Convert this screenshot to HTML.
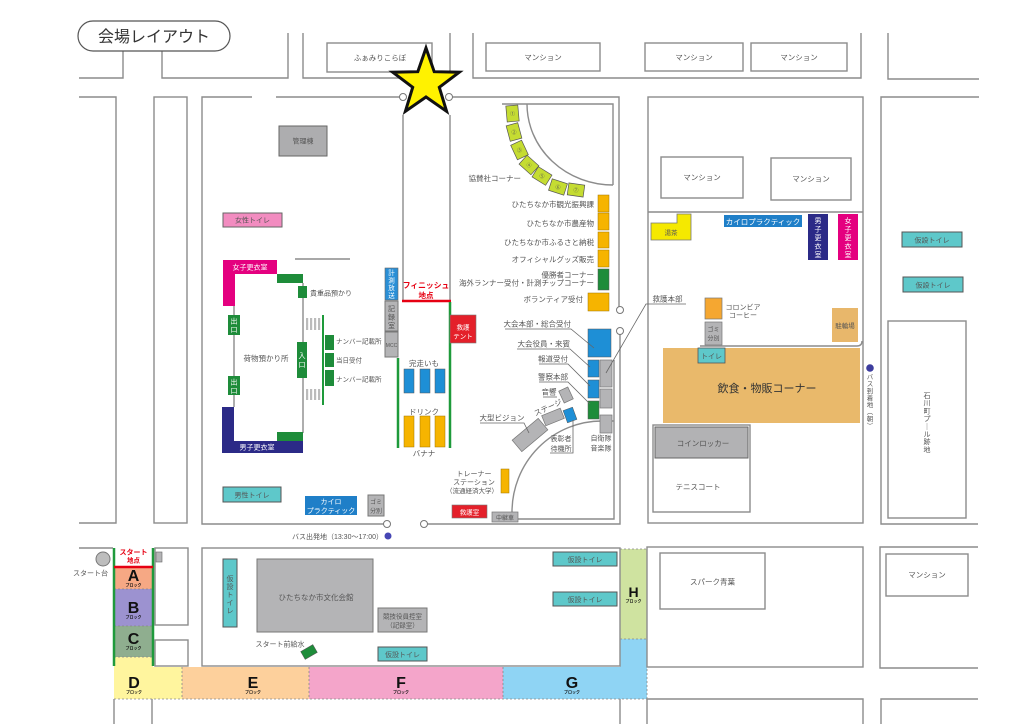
<!DOCTYPE html>
<html><head><meta charset="utf-8"><style>
html,body{margin:0;padding:0;background:#fff;overflow:hidden;}
svg{display:block;}
text{font-family:"Liberation Sans","Noto Sans CJK JP",sans-serif;fill:#555;font-size:7.5px;}
.m{text-anchor:middle;}
.e{text-anchor:end;}
.w{fill:#fff;}
.b{font-weight:bold;}
.r{fill:#e60012;font-weight:bold;}
.L{font-weight:bold;fill:#111;font-size:16px;text-anchor:middle;}
.bl{font-weight:bold;fill:#111;font-size:4px;text-anchor:middle;}
</style></head><body>
<svg width="1024" height="724" viewBox="0 0 1024 724" xmlns="http://www.w3.org/2000/svg">
<rect width="1024" height="724" fill="#fff"/>

<!-- bottom colored blocks -->
<rect x="114" y="567" width="39" height="22" fill="#f6a884"/>
<rect x="114" y="589" width="39" height="37" fill="#9c92d0"/>
<rect x="114" y="626" width="39" height="31" fill="#8fae8f"/>
<path d="M114,657H153V667H182V699H114Z" fill="#fff59e"/>
<rect x="182" y="667" width="127" height="32" fill="#fdd09c"/>
<rect x="309" y="667" width="194" height="32" fill="#f4a5ca"/>
<path d="M503,667H620V639H647V699H503Z" fill="#8fd4f4"/>
<rect x="620" y="549" width="27" height="90" fill="#cfe3a0"/>
<g fill="none" stroke="#888" stroke-width="0.8" stroke-dasharray="2,2">
<path d="M114,589H153M114,626H153M114,657H153M182,667V699M309,667V699M503,667V699M114,699H647M620,549H647M647,549V699M620,639H647"/>
</g>

<!-- roads / blocks -->
<g fill="none" stroke="#8c8c8c" stroke-width="1.4">
<path d="M79,78H123V51"/>
<path d="M162,51V78H288V33"/>
<path d="M303,33V78H450V33"/>
<rect x="327" y="43" width="105" height="29"/>
<path d="M473,33V78H861V33"/>
<rect x="486" y="43" width="114" height="28"/>
<rect x="645" y="43" width="98" height="28"/>
<rect x="751" y="43" width="96" height="28"/>
<path d="M888,33V79H979"/>
<path d="M79,97H116V523H79"/>
<rect x="154" y="97" width="33" height="426"/>
<path d="M252,97H202V524H383.5"/>
<path d="M276,97H399.5"/>
<path d="M452.5,97H619V306.5"/>
<path d="M620,334.5V524H427.5"/>
<path d="M502,104H613V185"/>
<path d="M527,104A86,81 0 0 0 613,185"/>
<path d="M614,360V519H518"/>
<path d="M512,512A90,91 0 0 1 602,421H614"/>
<rect x="648" y="97" width="215" height="426"/>
<path d="M648,212H863"/>
<path d="M700,346H857Q862,346 862,341"/>
<rect x="661" y="157" width="82" height="41"/>
<rect x="771" y="158" width="80" height="42"/>
<path d="M979,97H881V524H978"/>
<rect x="888" y="321" width="78" height="197"/>
<path d="M403,115V300"/>
<path d="M450,115V300"/>
<path d="M295,259H350"/>
<path d="M303,283V433M234,306V407"/>
<path d="M79,548H113"/>
<rect x="155" y="548" width="33" height="77"/>
<rect x="155" y="640" width="33" height="26"/>
<rect x="202" y="548" width="418" height="118"/>
<rect x="647" y="547" width="216" height="120"/>
<rect x="660" y="553" width="105" height="56"/>
<path d="M978,547H880V668H978"/>
<rect x="886" y="554" width="82" height="42"/>
<path d="M114,699V724M152,699V724M620,699V724"/>
<path d="M647,724V699H863V724"/>
<path d="M881,724V699H978"/>
<rect x="653" y="425" width="97" height="87"/>
</g>
<g fill="#fff" stroke="#777" stroke-width="1">
<circle cx="403" cy="97" r="3.5"/><circle cx="449" cy="97" r="3.5"/>
<circle cx="620" cy="310" r="3.5"/><circle cx="620" cy="331" r="3.5"/>
<circle cx="387" cy="524" r="3.5"/><circle cx="424" cy="524" r="3.5"/>
</g>

<!-- title -->
<rect x="78" y="21" width="152" height="30" rx="15" fill="#fff" stroke="#555" stroke-width="1.2"/>
<text x="154" y="42" class="m" style="font-size:16px;fill:#333">会場レイアウト</text>

<!-- star -->
<polygon points="426,48 434.2,71.7 459.3,72.2 439.3,87.3 446.6,111.3 426,97 405.4,111.3 412.7,87.3 392.7,72.2 417.8,71.7" fill="#fff200" stroke="#111" stroke-width="3" stroke-linejoin="miter"/>

<!-- top labels -->
<text x="380" y="60.5" class="m">ふぁみりこらぼ</text>
<text x="543" y="60" class="m">マンション</text>
<text x="694" y="60" class="m">マンション</text>
<text x="799" y="60" class="m">マンション</text>
<text x="702" y="180" class="m">マンション</text>
<text x="811" y="181.5" class="m">マンション</text>

<!-- left venue -->
<rect x="279" y="126" width="48" height="30" fill="#adadaf" stroke="#666"/>
<text x="303" y="143.5" class="m" style="font-size:7px">管理棟</text>
<rect x="223" y="213" width="59" height="14" fill="#f28cc0" stroke="#666"/>
<text x="252.5" y="222.5" class="m" style="font-size:7px">女性トイレ</text>

<path d="M223,260H277V274H235V306H223Z" fill="#e4007f"/>
<text x="250" y="269.5" class="m w" style="font-size:7px">女子更衣室</text>
<path d="M222,407H234V441H303V453H222Z" fill="#2b2a87"/>
<text x="257" y="449.5" class="m w" style="font-size:7px">男子更衣室</text>
<g fill="#1e8c3a">
<rect x="277" y="274" width="26" height="9"/>
<rect x="277" y="432" width="26" height="9"/>
<rect x="298" y="286" width="9" height="12"/>
<rect x="228" y="315" width="12" height="20"/>
<rect x="228" y="376" width="12" height="19"/>
<rect x="297" y="342" width="10" height="36"/>
<rect x="325" y="335" width="9" height="15"/>
<rect x="325" y="353" width="9" height="14"/>
<rect x="325" y="370" width="9" height="16"/>
</g>
<path d="M323,315V405" stroke="#1e9a3a" stroke-width="2"/>
<g fill="#bbb">
<rect x="306" y="318" width="2.2" height="12"/><rect x="310" y="318" width="2.2" height="12"/><rect x="314" y="318" width="2.2" height="12"/><rect x="318" y="318" width="2.2" height="12"/>
<rect x="306" y="389" width="2.2" height="11"/><rect x="310" y="389" width="2.2" height="11"/><rect x="314" y="389" width="2.2" height="11"/><rect x="318" y="389" width="2.2" height="11"/>
</g>
<text x="234" y="323.5" class="m w" style="font-size:7px">出</text><text x="234" y="332" class="m w" style="font-size:7px">口</text>
<text x="234" y="384.5" class="m w" style="font-size:7px">出</text><text x="234" y="393" class="m w" style="font-size:7px">口</text>
<text x="302" y="358" class="m w" style="font-size:7px">入</text><text x="302" y="367" class="m w" style="font-size:7px">口</text>
<text x="310" y="295.5" style="font-size:7px">貴重品預かり</text>
<text x="336" y="343.5" style="font-size:6.5px">ナンバー記載所</text>
<text x="336" y="362.5" style="font-size:6.5px">当日受付</text>
<text x="336" y="381.5" style="font-size:6.5px">ナンバー記載所</text>
<text x="266" y="361" class="m">荷物預かり所</text>

<rect x="223" y="487" width="58" height="15" fill="#5ec8ca" stroke="#555"/>
<text x="252" y="497.5" class="m" style="font-size:7px">男性トイレ</text>
<rect x="305" y="496" width="52" height="19" fill="#1f7fc8"/>
<text x="331" y="504" class="m w" style="font-size:7px">カイロ</text>
<text x="331" y="513" class="m w" style="font-size:7px">プラクティック</text>
<rect x="368" y="495" width="16" height="21" fill="#b4b4b6" stroke="#777"/>
<text x="376" y="504" class="m" style="font-size:6px">ゴミ</text>
<text x="376" y="513" class="m" style="font-size:6px">分別</text>

<text x="383" y="539" class="e" style="font-size:7px">バス出発地（13:30〜17:00）</text>
<circle cx="388" cy="536" r="3.5" fill="#4646b4"/>

<!-- finish area -->
<rect x="385" y="268" width="13" height="32" fill="#2a8fd6" stroke="#666" stroke-width="0.6"/>
<text x="391.5" y="275" class="m w" style="font-size:6.5px">計</text>
<text x="391.5" y="282.5" class="m w" style="font-size:6.5px">測</text>
<text x="391.5" y="290" class="m w" style="font-size:6.5px">放</text>
<text x="391.5" y="297.5" class="m w" style="font-size:6.5px">送</text>
<rect x="385" y="301" width="13" height="30" fill="#b4b4b6" stroke="#777"/>
<text x="391.5" y="311" class="m" style="font-size:7px">記</text>
<text x="391.5" y="319.5" class="m" style="font-size:7px">録</text>
<text x="391.5" y="328" class="m" style="font-size:7px">室</text>
<rect x="385" y="332" width="13" height="25" fill="#b4b4b6" stroke="#777"/>
<text x="391.5" y="347" class="m" style="font-size:5px">MCC</text>

<text x="426" y="288" class="m r" style="font-size:7.8px">フィニッシュ</text>
<text x="426" y="298" class="m r" style="font-size:7.5px">地点</text>
<path d="M402,301H451" stroke="#e60012" stroke-width="2.5"/>
<path d="M398,358V448M450,302V448" stroke="#1e9a3a" stroke-width="2.5"/>

<rect x="450" y="315" width="26" height="28" fill="#e4202a" stroke="#777" stroke-width="0.6"/>
<text x="463" y="329.5" class="m w" style="font-size:6.5px">救護</text>
<text x="463" y="338.5" class="m w" style="font-size:6.5px">テント</text>

<text x="424" y="366" class="m">完走いも</text>
<g fill="#1e8fd6" stroke="#555" stroke-width="0.5">
<rect x="404" y="369" width="10" height="24"/><rect x="420" y="369" width="10" height="24"/><rect x="435" y="369" width="10" height="24"/>
</g>
<text x="424" y="414.5" class="m">ドリンク</text>
<g fill="#f6b400" stroke="#a07400" stroke-width="0.5">
<rect x="404" y="416" width="10" height="31"/><rect x="420" y="416" width="10" height="31"/><rect x="435" y="416" width="10" height="31"/>
</g>
<text x="424" y="456" class="m">バナナ</text>

<!-- sponsor booths -->
<g fill="#c5dc32" stroke="#555" stroke-width="0.7">
<g transform="translate(512.5,113.5) rotate(-5)"><rect x="-6" y="-8" width="12" height="16"/></g>
<g transform="translate(514,132) rotate(-15)"><rect x="-6" y="-8" width="12" height="16"/></g>
<g transform="translate(519.5,150) rotate(-25)"><rect x="-6" y="-8" width="12" height="16"/></g>
<g transform="translate(529,165) rotate(-48)"><rect x="-6" y="-8" width="12" height="16"/></g>
<g transform="translate(542,176) rotate(-58)"><rect x="-6" y="-8" width="12" height="16"/></g>
<g transform="translate(558,187) rotate(-72)"><rect x="-6" y="-8" width="12" height="16"/></g>
<g transform="translate(576,190) rotate(-82)"><rect x="-6" y="-8" width="12" height="16"/></g>
</g>
<text x="512.5" y="115.5" class="m" style="font-size:5px">①</text>
<text x="514" y="134" class="m" style="font-size:5px">②</text>
<text x="519.5" y="152" class="m" style="font-size:5px">③</text>
<text x="529" y="167" class="m" style="font-size:5px">④</text>
<text x="542" y="178" class="m" style="font-size:5px">⑤</text>
<text x="558" y="189" class="m" style="font-size:5px">⑥</text>
<text x="576" y="192" class="m" style="font-size:5px">⑦</text>
<text x="521" y="181" class="e">協賛社コーナー</text>

<!-- stands column -->
<g fill="#f6b400" stroke="#a07400" stroke-width="0.5">
<rect x="598" y="195" width="11" height="17"/>
<rect x="598" y="213" width="11" height="17"/>
<rect x="598" y="232" width="11" height="16"/>
<rect x="598" y="250" width="11" height="17"/>
<rect x="588" y="293" width="21" height="18"/>
</g>
<rect x="598" y="269" width="11" height="21" fill="#1e8c3a" stroke="#555" stroke-width="0.5"/>
<text x="594" y="207" class="e">ひたちなか市観光振興課</text>
<text x="594" y="226" class="e">ひたちなか市農産物</text>
<text x="594" y="245" class="e">ひたちなか市ふるさと納税</text>
<text x="594" y="262" class="e">オフィシャルグッズ販売</text>
<text x="594" y="277.5" class="e">優勝者コーナー</text>
<text x="594" y="285.5" class="e">海外ランナー受付・計測チップコーナー</text>
<text x="583" y="302" class="e">ボランティア受付</text>

<!-- HQ area -->
<g fill="#1e8fd6" stroke="#555" stroke-width="0.5">
<rect x="588" y="329" width="23" height="28"/>
<rect x="588" y="360" width="11" height="17"/>
<rect x="588" y="380" width="11" height="18"/>
</g>
<rect x="588" y="401" width="11" height="18" fill="#1e8c3a" stroke="#555" stroke-width="0.5"/>
<g fill="#b4b4b6" stroke="#777" stroke-width="0.7">
<rect x="600" y="360" width="12" height="27"/>
<rect x="600" y="389" width="12" height="19"/>
<rect x="600" y="415" width="12" height="18"/>
<g transform="translate(530,435) rotate(-40)"><rect x="-17" y="-7.5" width="34" height="15"/></g>
<g transform="translate(553,417) rotate(-22)"><rect x="-10" y="-5.5" width="20" height="11"/></g>
<g transform="translate(566,395) rotate(-25)"><rect x="-5" y="-6.5" width="10" height="13"/></g>
<rect x="492" y="512" width="26" height="10"/>
</g>
<g transform="translate(570,415) rotate(-20)"><rect x="-5" y="-6.5" width="10" height="13" fill="#1e8fd6" stroke="#555" stroke-width="0.5"/></g>
<g fill="none" stroke="#666" stroke-width="0.8">
<path d="M505,329H571L594,348"/>
<path d="M517,349H570L590,367"/>
<path d="M539,364H568L590,386"/>
<path d="M539,382H568L590,404"/>
<path d="M543,397H557"/>
<path d="M480,423H524L529,433"/>
<path d="M550,453H573V420"/>
<path d="M686,304H646L606,373"/>
</g>
<text x="571" y="326.5" class="e">大会本部・総合受付</text>
<text x="570" y="346.5" class="e">大会役員・来賓</text>
<text x="568" y="361.5" class="e">報道受付</text>
<text x="568" y="379.5" class="e">警察本部</text>
<text x="549" y="394.5" class="m">音響</text>
<text x="0" y="0" class="m" transform="translate(549,410) rotate(-25)">ステージ</text>
<text x="502" y="420.5" class="m">大型ビジョン</text>
<text x="561" y="441" class="m" style="font-size:7px">表彰者</text>
<text x="561" y="451" class="m" style="font-size:7px">待機所</text>
<text x="601" y="440.5" class="m" style="font-size:7px">自衛隊</text>
<text x="601" y="450.5" class="m" style="font-size:7px">音楽隊</text>
<rect x="501" y="469" width="8" height="24" fill="#f6b400" stroke="#a07400" stroke-width="0.5"/>
<text x="474" y="476" class="m" style="font-size:7px">トレーナー</text>
<text x="474" y="484.5" class="m" style="font-size:7px">ステーション</text>
<text x="472" y="493" class="m" style="font-size:6.5px">（流通経済大学）</text>
<rect x="452" y="505" width="35" height="13" fill="#e4202a" stroke="#777" stroke-width="0.6"/>
<text x="469.5" y="514.5" class="m w" style="font-size:6.5px">救護室</text>
<text x="505" y="520" class="m" style="font-size:6px">中継車</text>
<text x="667.5" y="301.5" class="m">救護本部</text>

<!-- right event area -->
<path d="M677,214H691V240H651V223H677Z" fill="#f5e900" stroke="#777" stroke-width="0.8"/>
<text x="671" y="235" class="m" style="font-size:6.5px">湯茶</text>
<rect x="724" y="215" width="78" height="12" fill="#1f7fc8"/>
<text x="763" y="224.5" class="m w">カイロプラクティック</text>
<rect x="808" y="214" width="20" height="46" fill="#2b2a87"/>
<rect x="838" y="214" width="20" height="46" fill="#e4007f"/>
<text x="818" y="223" class="m w" style="font-size:7px">男</text><text x="818" y="231.5" class="m w" style="font-size:7px">子</text><text x="818" y="240" class="m w" style="font-size:7px">更</text><text x="818" y="248.5" class="m w" style="font-size:7px">衣</text><text x="818" y="257" class="m w" style="font-size:7px">室</text>
<text x="848" y="223" class="m w" style="font-size:7px">女</text><text x="848" y="231.5" class="m w" style="font-size:7px">子</text><text x="848" y="240" class="m w" style="font-size:7px">更</text><text x="848" y="248.5" class="m w" style="font-size:7px">衣</text><text x="848" y="257" class="m w" style="font-size:7px">室</text>
<rect x="705" y="298" width="17" height="21" fill="#f5a731" stroke="#777" stroke-width="0.7"/>
<text x="743" y="309.5" class="m" style="font-size:7px">コロンビア</text>
<text x="743" y="317.5" class="m" style="font-size:7px">コーヒー</text>
<rect x="705" y="322" width="17" height="23" fill="#b4b4b6" stroke="#777" stroke-width="0.7"/>
<text x="713.5" y="331.5" class="m" style="font-size:6px">ゴミ</text>
<text x="713.5" y="340.5" class="m" style="font-size:6px">分別</text>
<rect x="832" y="308" width="26" height="34" fill="#e8b76b"/>
<text x="845" y="328" class="m" style="font-size:6.5px">駐輪場</text>
<rect x="663" y="348" width="197" height="75" fill="#e9b96b"/>
<text x="767" y="392" class="m" style="font-size:11px;fill:#333">飲食・物販コーナー</text>
<rect x="698" y="348" width="27" height="15" fill="#5ec8ca" stroke="#555" stroke-width="0.8"/>
<text x="711.5" y="358.5" class="m" style="font-size:7px">トイレ</text>
<rect x="655" y="427" width="93" height="31" fill="#b2b2b4" stroke="#666"/>
<text x="703" y="446" class="m">コインロッカー</text>
<text x="698" y="489.5" class="m">テニスコート</text>
<circle cx="870" cy="368" r="3.8" fill="#3d3d9e"/>
<text x="870" y="379" class="m" style="font-size:6.5px">バ</text>
<text x="870" y="386" class="m" style="font-size:6.5px">ス</text>
<text x="870" y="393" class="m" style="font-size:6.5px">到</text>
<text x="870" y="400" class="m" style="font-size:6.5px">着</text>
<text x="870" y="407" class="m" style="font-size:6.5px">地</text>
<text x="870" y="414" class="m" style="font-size:6.5px">︵</text>
<text x="870" y="421" class="m" style="font-size:6.5px">朝</text>
<text x="870" y="428" class="m" style="font-size:6.5px">︶</text>

<!-- far right -->
<rect x="902" y="232" width="60" height="15" fill="#5ec8ca" stroke="#555"/>
<text x="932" y="242.5" class="m" style="font-size:7px">仮設トイレ</text>
<rect x="903" y="277" width="60" height="15" fill="#5ec8ca" stroke="#555"/>
<text x="933" y="287.5" class="m" style="font-size:7px">仮設トイレ</text>
<text x="927" y="398" class="m" style="font-size:7px">石</text>
<text x="927" y="405.7" class="m" style="font-size:7px">川</text>
<text x="927" y="413.4" class="m" style="font-size:7px">町</text>
<text x="927" y="421.1" class="m" style="font-size:7px">プ</text>
<text x="927" y="428.8" class="m" style="font-size:7px">｜</text>
<text x="927" y="436.5" class="m" style="font-size:7px">ル</text>
<text x="927" y="444.2" class="m" style="font-size:7px">跡</text>
<text x="927" y="451.9" class="m" style="font-size:7px">地</text>

<!-- start area -->
<path d="M114,548V666M153,548V666" stroke="#1f9a3c" stroke-width="2.5"/>
<path d="M114,567H153" stroke="#e60012" stroke-width="2.5"/>
<text x="133.5" y="554.5" class="m r" style="font-size:7px">スタート</text>
<text x="133.5" y="562.5" class="m r" style="font-size:6.5px">地点</text>
<circle cx="103" cy="559" r="7" fill="#bdbdbd" stroke="#777"/>
<text x="90.5" y="575.5" class="m" style="font-size:7px">スタート台</text>
<rect x="156" y="552" width="6" height="10" fill="#b4b4b6" stroke="#666" stroke-width="0.6"/>

<text x="133.5" y="581" class="L">A</text><text x="133.5" y="586.5" class="bl">ブロック</text>
<text x="133.5" y="613" class="L">B</text><text x="133.5" y="618.5" class="bl">ブロック</text>
<text x="133.5" y="644" class="L">C</text><text x="133.5" y="649.5" class="bl">ブロック</text>
<text x="134" y="688" class="L">D</text><text x="134" y="693.5" class="bl">ブロック</text>
<text x="253" y="688" class="L">E</text><text x="253" y="693.5" class="bl">ブロック</text>
<text x="401" y="688" class="L">F</text><text x="401" y="693.5" class="bl">ブロック</text>
<text x="572" y="688" class="L">G</text><text x="572" y="693.5" class="bl">ブロック</text>
<text x="633.5" y="597" class="L" style="font-size:14px">H</text><text x="633.5" y="602.5" class="bl">ブロック</text>

<!-- bottom main block -->
<rect x="223" y="559" width="14" height="68" fill="#5ec8ca" stroke="#555"/>
<text x="230" y="581" class="m" style="font-size:7px">仮</text>
<text x="230" y="589" class="m" style="font-size:7px">設</text>
<text x="230" y="597" class="m" style="font-size:7px">ト</text>
<text x="230" y="605" class="m" style="font-size:7px">イ</text>
<text x="230" y="613" class="m" style="font-size:7px">レ</text>
<rect x="257" y="559" width="116" height="73" fill="#b4b4b6" stroke="#777"/>
<text x="316" y="600" class="m">ひたちなか市文化会館</text>
<rect x="378" y="608" width="49" height="24" fill="#b4b4b6" stroke="#777"/>
<text x="402.5" y="618.5" class="m" style="font-size:6.5px">競技役員控室</text>
<text x="402.5" y="627.5" class="m" style="font-size:6.5px">（記録室）</text>
<rect x="378" y="647" width="49" height="14" fill="#5ec8ca" stroke="#555"/>
<text x="402.5" y="657" class="m" style="font-size:7px">仮設トイレ</text>
<rect x="553" y="552" width="64" height="14" fill="#5ec8ca" stroke="#555"/>
<text x="585" y="562" class="m" style="font-size:7px">仮設トイレ</text>
<rect x="553" y="592" width="64" height="14" fill="#5ec8ca" stroke="#555"/>
<text x="585" y="602" class="m" style="font-size:7px">仮設トイレ</text>
<text x="280" y="646.5" class="m" style="font-size:7px">スタート前給水</text>
<g transform="translate(309,652) rotate(-30)"><rect x="-7" y="-4.5" width="14" height="9" fill="#1e8c3a" stroke="#555" stroke-width="0.5"/></g>

<text x="712.5" y="584.5" class="m">スパーク青葉</text>
<text x="927" y="577.5" class="m">マンション</text>
</svg>
</body></html>
